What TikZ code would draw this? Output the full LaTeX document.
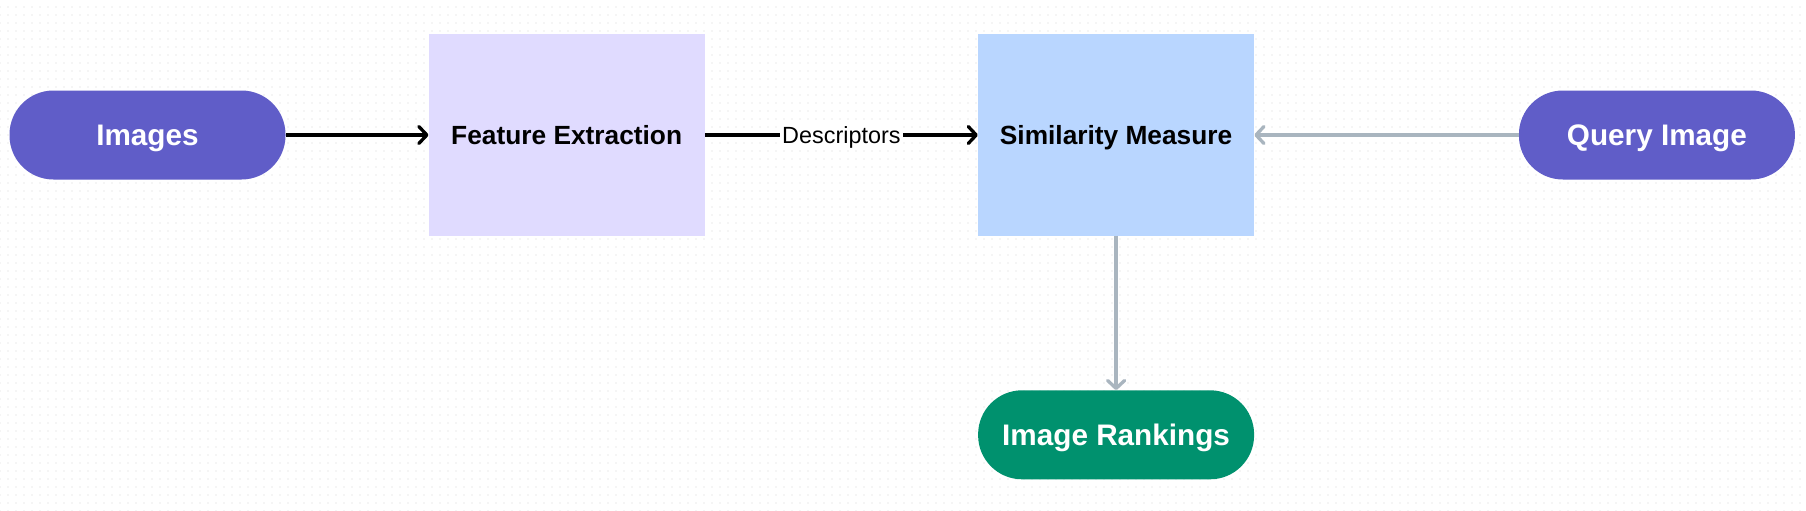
\documentclass[tikz,border=0pt]{standalone}
\usepackage{fontspec}
\setmainfont{Liberation Sans}
\usetikzlibrary{arrows.meta,patterns.meta}
\definecolor{pillpurple}{HTML}{605DC8}
\definecolor{boxlav}{HTML}{E0DBFF}
\definecolor{boxblue}{HTML}{B9D6FF}
\definecolor{pillgreen}{HTML}{00916E}
\definecolor{grayarrow}{HTML}{A9B5BF}
\definecolor{dotgray}{HTML}{D6D6D6}
\begin{document}
\begin{tikzpicture}[x=1pt,y=-1pt,
  pill/.style={rectangle, rounded corners=44pt, minimum width=276pt, minimum height=89pt,
    inner sep=0pt, text=white, text height=21pt, text depth=0pt,
    font=\bfseries\fontsize{29.7}{32}\selectfont},
  procbox/.style={rectangle, minimum width=276pt, minimum height=201pt, inner sep=0pt,
    text=black, text height=19pt, text depth=0pt,
    font=\bfseries\fontsize{26.3}{30}\selectfont},
  blackarrow/.style={line width=3.3pt, black, -{Straight Barb[length=8pt,width=17pt,round]}},
  grayarr/.style={line width=3.3pt, grayarrow, -{Straight Barb[length=8pt,width=17pt,round]}},
  edgelabel/.style={fill=white, inner sep=2pt, text=black, text height=16.5pt, text depth=0pt,
    font=\fontsize{23.4}{26}\selectfont}]
\useasboundingbox (0,0) rectangle (1806,511);
\fill[white] (0,0) rectangle (1806,511);
\fill[pattern={Dots[distance=8pt,radius=0.7pt]}, pattern color=dotgray] (0,0) rectangle (1806,511);

\node[pill, fill=pillpurple] (img) at (147.5,135) {Images};
\node[procbox, fill=boxlav] (fe) at (566.7,135) {Feature Extraction};
\node[procbox, fill=boxblue] (sm) at (1116.1,135) {Similarity Measure};
\node[pill, fill=pillpurple] (q) at (1656.9,135) {Query Image};
\node[pill, fill=pillgreen] (rk) at (1116.1,434.8) {Image Rankings};

\draw[blackarrow] (img) -- (fe);
\draw[blackarrow] (fe) -- node[edgelabel] {Descriptors} (sm);
\draw[grayarr] (q) -- (sm);
\draw[grayarr] (sm) -- (rk);
\end{tikzpicture}
\end{document}
